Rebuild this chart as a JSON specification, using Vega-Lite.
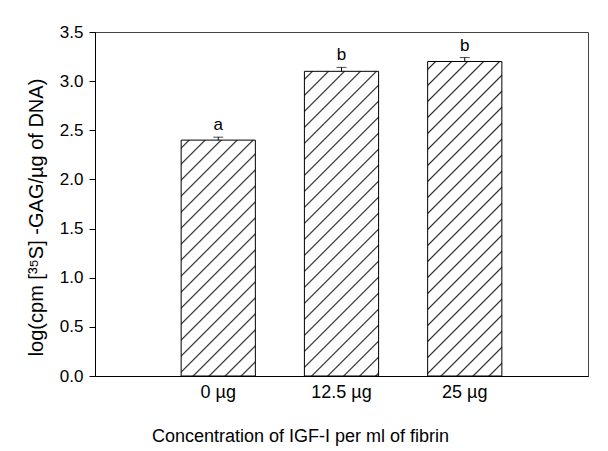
{
  "$schema": "https://vega.github.io/schema/vega-lite/v6.json",
  "width": 493,
  "height": 344,
  "autosize": {"type": "none"},
  "padding": {"left": 95, "top": 32, "right": 20, "bottom": 75},
  "background": "white",
  "config": {"view": {"stroke": "#444", "strokeWidth": 1}, "font": "Liberation Sans"},
  "data": {"values": [
    {"dose": "0 µg", "value": 2.40, "hi": 2.43, "label": "a"},
    {"dose": "12.5 µg", "value": 3.10, "hi": 3.14, "label": "b"},
    {"dose": "25 µg", "value": 3.20, "hi": 3.24, "label": "b"}
  ]},
  "encoding": {
    "x": {
      "field": "dose", "type": "nominal", "sort": null,
      "scale": {"domain": ["0 µg", "12.5 µg", "25 µg"], "paddingInner": 0.398, "paddingOuter": 0.699},
      "axis": {
        "title": "Concentration of IGF-I per ml of fibrin",
        "ticks": false, "labelAngle": 0, "labelFontSize": 18, "labelPadding": 7,
        "labelColor": "black", "domainColor": "black",
        "titleFontSize": 18, "titleFontWeight": "normal", "titleColor": "black",
        "titleX": 205, "titleY": 60, "titleAlign": "center", "titleBaseline": "middle"
      }
    }
  },
  "layer": [
    {
      "transform": [{"filter": "datum.dose === '0 µg'"}],
      "mark": {"type": "bar", "stroke": "black", "strokeWidth": 1,
        "fill": {"gradient": "linear", "x1": 0, "y1": 0, "x2": 0.4853, "y2": 1.543, "stops": [
          {"offset":0.016,"color":"#fff"},{"offset":0.02,"color":"#222"},{"offset":0.024,"color":"#fff"},
          {"offset":0.056,"color":"#fff"},{"offset":0.06,"color":"#222"},{"offset":0.064,"color":"#fff"},
          {"offset":0.096,"color":"#fff"},{"offset":0.1,"color":"#222"},{"offset":0.104,"color":"#fff"},
          {"offset":0.136,"color":"#fff"},{"offset":0.14,"color":"#222"},{"offset":0.144,"color":"#fff"},
          {"offset":0.176,"color":"#fff"},{"offset":0.18,"color":"#222"},{"offset":0.184,"color":"#fff"},
          {"offset":0.216,"color":"#fff"},{"offset":0.22,"color":"#222"},{"offset":0.224,"color":"#fff"},
          {"offset":0.256,"color":"#fff"},{"offset":0.26,"color":"#222"},{"offset":0.264,"color":"#fff"},
          {"offset":0.296,"color":"#fff"},{"offset":0.3,"color":"#222"},{"offset":0.304,"color":"#fff"},
          {"offset":0.336,"color":"#fff"},{"offset":0.34,"color":"#222"},{"offset":0.344,"color":"#fff"},
          {"offset":0.376,"color":"#fff"},{"offset":0.38,"color":"#222"},{"offset":0.384,"color":"#fff"},
          {"offset":0.416,"color":"#fff"},{"offset":0.42,"color":"#222"},{"offset":0.424,"color":"#fff"},
          {"offset":0.456,"color":"#fff"},{"offset":0.46,"color":"#222"},{"offset":0.464,"color":"#fff"},
          {"offset":0.496,"color":"#fff"},{"offset":0.5,"color":"#222"},{"offset":0.504,"color":"#fff"},
          {"offset":0.536,"color":"#fff"},{"offset":0.54,"color":"#222"},{"offset":0.544,"color":"#fff"},
          {"offset":0.576,"color":"#fff"},{"offset":0.58,"color":"#222"},{"offset":0.584,"color":"#fff"},
          {"offset":0.616,"color":"#fff"},{"offset":0.62,"color":"#222"},{"offset":0.624,"color":"#fff"},
          {"offset":0.656,"color":"#fff"},{"offset":0.66,"color":"#222"},{"offset":0.664,"color":"#fff"},
          {"offset":0.696,"color":"#fff"},{"offset":0.7,"color":"#222"},{"offset":0.704,"color":"#fff"},
          {"offset":0.736,"color":"#fff"},{"offset":0.74,"color":"#222"},{"offset":0.744,"color":"#fff"},
          {"offset":0.776,"color":"#fff"},{"offset":0.78,"color":"#222"},{"offset":0.784,"color":"#fff"},
          {"offset":0.816,"color":"#fff"},{"offset":0.82,"color":"#222"},{"offset":0.824,"color":"#fff"},
          {"offset":0.856,"color":"#fff"},{"offset":0.86,"color":"#222"},{"offset":0.864,"color":"#fff"},
          {"offset":0.896,"color":"#fff"},{"offset":0.9,"color":"#222"},{"offset":0.904,"color":"#fff"},
          {"offset":0.936,"color":"#fff"},{"offset":0.94,"color":"#222"},{"offset":0.944,"color":"#fff"},
          {"offset":0.976,"color":"#fff"},{"offset":0.98,"color":"#222"},{"offset":0.984,"color":"#fff"}
        ]}
      },
      "encoding": {
        "y": {
          "field": "value", "type": "quantitative",
          "scale": {"domain": [0, 3.5], "nice": false, "zero": true},
          "axis": {
            "values": [0, 0.5, 1, 1.5, 2, 2.5, 3, 3.5], "format": ".1f", "grid": false,
            "tickSize": 6, "tickColor": "black", "domainColor": "black",
            "labelFontSize": 17, "labelPadding": 6, "labelColor": "black", "labelFlush": false, "labelOverlap": false,
            "title": "log(cpm [³⁵S] -GAG/µg of DNA)",
            "titleFontSize": 20, "titleFontWeight": "normal", "titleColor": "black",
            "titleAngle": 270, "titleX": -59, "titleY": 185, "titleAlign": "center", "titleBaseline": "middle"
          }
        }
      }
    },
    {
      "transform": [{"filter": "datum.dose === '12.5 µg'"}],
      "mark": {"type": "bar", "stroke": "black", "strokeWidth": 1,
        "fill": {"gradient": "linear", "x1": 0, "y1": 0, "x2": 0.3018, "y2": 1.2392, "stops": [
          {"offset":0.016,"color":"#fff"},{"offset":0.02,"color":"#222"},{"offset":0.024,"color":"#fff"},
          {"offset":0.056,"color":"#fff"},{"offset":0.06,"color":"#222"},{"offset":0.064,"color":"#fff"},
          {"offset":0.096,"color":"#fff"},{"offset":0.1,"color":"#222"},{"offset":0.104,"color":"#fff"},
          {"offset":0.136,"color":"#fff"},{"offset":0.14,"color":"#222"},{"offset":0.144,"color":"#fff"},
          {"offset":0.176,"color":"#fff"},{"offset":0.18,"color":"#222"},{"offset":0.184,"color":"#fff"},
          {"offset":0.216,"color":"#fff"},{"offset":0.22,"color":"#222"},{"offset":0.224,"color":"#fff"},
          {"offset":0.256,"color":"#fff"},{"offset":0.26,"color":"#222"},{"offset":0.264,"color":"#fff"},
          {"offset":0.296,"color":"#fff"},{"offset":0.3,"color":"#222"},{"offset":0.304,"color":"#fff"},
          {"offset":0.336,"color":"#fff"},{"offset":0.34,"color":"#222"},{"offset":0.344,"color":"#fff"},
          {"offset":0.376,"color":"#fff"},{"offset":0.38,"color":"#222"},{"offset":0.384,"color":"#fff"},
          {"offset":0.416,"color":"#fff"},{"offset":0.42,"color":"#222"},{"offset":0.424,"color":"#fff"},
          {"offset":0.456,"color":"#fff"},{"offset":0.46,"color":"#222"},{"offset":0.464,"color":"#fff"},
          {"offset":0.496,"color":"#fff"},{"offset":0.5,"color":"#222"},{"offset":0.504,"color":"#fff"},
          {"offset":0.536,"color":"#fff"},{"offset":0.54,"color":"#222"},{"offset":0.544,"color":"#fff"},
          {"offset":0.576,"color":"#fff"},{"offset":0.58,"color":"#222"},{"offset":0.584,"color":"#fff"},
          {"offset":0.616,"color":"#fff"},{"offset":0.62,"color":"#222"},{"offset":0.624,"color":"#fff"},
          {"offset":0.656,"color":"#fff"},{"offset":0.66,"color":"#222"},{"offset":0.664,"color":"#fff"},
          {"offset":0.696,"color":"#fff"},{"offset":0.7,"color":"#222"},{"offset":0.704,"color":"#fff"},
          {"offset":0.736,"color":"#fff"},{"offset":0.74,"color":"#222"},{"offset":0.744,"color":"#fff"},
          {"offset":0.776,"color":"#fff"},{"offset":0.78,"color":"#222"},{"offset":0.784,"color":"#fff"},
          {"offset":0.816,"color":"#fff"},{"offset":0.82,"color":"#222"},{"offset":0.824,"color":"#fff"},
          {"offset":0.856,"color":"#fff"},{"offset":0.86,"color":"#222"},{"offset":0.864,"color":"#fff"},
          {"offset":0.896,"color":"#fff"},{"offset":0.9,"color":"#222"},{"offset":0.904,"color":"#fff"},
          {"offset":0.936,"color":"#fff"},{"offset":0.94,"color":"#222"},{"offset":0.944,"color":"#fff"},
          {"offset":0.976,"color":"#fff"},{"offset":0.98,"color":"#222"},{"offset":0.984,"color":"#fff"}
        ]}
      },
      "encoding": {"y": {"field": "value", "type": "quantitative"}}
    },
    {
      "transform": [{"filter": "datum.dose === '25 µg'"}],
      "mark": {"type": "bar", "stroke": "black", "strokeWidth": 1,
        "fill": {"gradient": "linear", "x1": 0, "y1": 0, "x2": 0.2843, "y2": 1.2048, "stops": [
          {"offset":0.016,"color":"#fff"},{"offset":0.02,"color":"#222"},{"offset":0.024,"color":"#fff"},
          {"offset":0.056,"color":"#fff"},{"offset":0.06,"color":"#222"},{"offset":0.064,"color":"#fff"},
          {"offset":0.096,"color":"#fff"},{"offset":0.1,"color":"#222"},{"offset":0.104,"color":"#fff"},
          {"offset":0.136,"color":"#fff"},{"offset":0.14,"color":"#222"},{"offset":0.144,"color":"#fff"},
          {"offset":0.176,"color":"#fff"},{"offset":0.18,"color":"#222"},{"offset":0.184,"color":"#fff"},
          {"offset":0.216,"color":"#fff"},{"offset":0.22,"color":"#222"},{"offset":0.224,"color":"#fff"},
          {"offset":0.256,"color":"#fff"},{"offset":0.26,"color":"#222"},{"offset":0.264,"color":"#fff"},
          {"offset":0.296,"color":"#fff"},{"offset":0.3,"color":"#222"},{"offset":0.304,"color":"#fff"},
          {"offset":0.336,"color":"#fff"},{"offset":0.34,"color":"#222"},{"offset":0.344,"color":"#fff"},
          {"offset":0.376,"color":"#fff"},{"offset":0.38,"color":"#222"},{"offset":0.384,"color":"#fff"},
          {"offset":0.416,"color":"#fff"},{"offset":0.42,"color":"#222"},{"offset":0.424,"color":"#fff"},
          {"offset":0.456,"color":"#fff"},{"offset":0.46,"color":"#222"},{"offset":0.464,"color":"#fff"},
          {"offset":0.496,"color":"#fff"},{"offset":0.5,"color":"#222"},{"offset":0.504,"color":"#fff"},
          {"offset":0.536,"color":"#fff"},{"offset":0.54,"color":"#222"},{"offset":0.544,"color":"#fff"},
          {"offset":0.576,"color":"#fff"},{"offset":0.58,"color":"#222"},{"offset":0.584,"color":"#fff"},
          {"offset":0.616,"color":"#fff"},{"offset":0.62,"color":"#222"},{"offset":0.624,"color":"#fff"},
          {"offset":0.656,"color":"#fff"},{"offset":0.66,"color":"#222"},{"offset":0.664,"color":"#fff"},
          {"offset":0.696,"color":"#fff"},{"offset":0.7,"color":"#222"},{"offset":0.704,"color":"#fff"},
          {"offset":0.736,"color":"#fff"},{"offset":0.74,"color":"#222"},{"offset":0.744,"color":"#fff"},
          {"offset":0.776,"color":"#fff"},{"offset":0.78,"color":"#222"},{"offset":0.784,"color":"#fff"},
          {"offset":0.816,"color":"#fff"},{"offset":0.82,"color":"#222"},{"offset":0.824,"color":"#fff"},
          {"offset":0.856,"color":"#fff"},{"offset":0.86,"color":"#222"},{"offset":0.864,"color":"#fff"},
          {"offset":0.896,"color":"#fff"},{"offset":0.9,"color":"#222"},{"offset":0.904,"color":"#fff"},
          {"offset":0.936,"color":"#fff"},{"offset":0.94,"color":"#222"},{"offset":0.944,"color":"#fff"},
          {"offset":0.976,"color":"#fff"},{"offset":0.98,"color":"#222"},{"offset":0.984,"color":"#fff"}
        ]}
      },
      "encoding": {"y": {"field": "value", "type": "quantitative"}}
    },
    {
      "mark": {"type": "rule", "color": "black", "strokeWidth": 1},
      "encoding": {
        "y": {"field": "value", "type": "quantitative"},
        "y2": {"field": "hi"}
      }
    },
    {
      "mark": {"type": "tick", "color": "black", "orient": "horizontal", "size": 10, "thickness": 1},
      "encoding": {"y": {"field": "hi", "type": "quantitative"}}
    },
    {
      "mark": {"type": "text", "baseline": "bottom", "dy": -3, "fontSize": 17, "color": "black", "font": "Liberation Sans"},
      "encoding": {
        "y": {"field": "hi", "type": "quantitative"},
        "text": {"field": "label"}
      }
    }
  ]
}
